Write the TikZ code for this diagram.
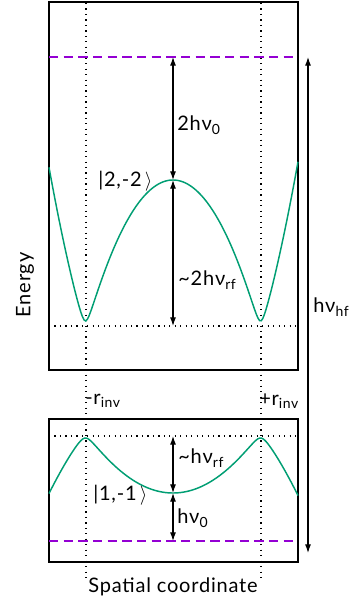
\documentclass[tikz,border=0pt]{standalone}
\usepackage{fontspec}
\setmainfont{Lato}
\usetikzlibrary{arrows.meta}
\definecolor{wellgreen}{RGB}{0,158,115}
\definecolor{zeroviolet}{RGB}{148,0,211}

\begin{document}
\begin{tikzpicture}[x=0.75pt, y=-0.75pt, >={Latex[length=6.5pt,width=4.5pt]},
    declare function={dressed(\u,\e)=sqrt((1-\u*\u)^2+\e*\e)-\e;},
    panel/.style={line width=1.5pt},
    guide/.style={line width=0.9pt, dash pattern=on 0.9pt off 3.2pt},
    zeroline/.style={zeroviolet, line width=0.9pt, dash pattern=on 7pt off 4pt},
    well/.style={wellgreen, line width=1.1pt},
    gap/.style={<->, line width=0.8pt},
    lbl/.style={font=\fontsize{15}{17}\selectfont\addfontfeature{LetterSpace=4}, inner sep=0pt}]

    \useasboundingbox (0,0) rectangle (358,605);

    % guides at the inversion points
    \draw[guide] (86,3) -- (86,578);
    \draw[guide] (261,3) -- (261,578);
    \draw[guide] (49,326) -- (298,326);
    \draw[guide] (49,436) -- (298,436);

    % panels
    \draw[panel] (49,2) rectangle (298,370);
    \draw[panel] (49,419) rectangle (298,562);

    % zero levels
    \draw[zeroline] (49,57) -- (298,57);
    \draw[zeroline] (49,541) -- (298,541);

    % dressed potentials
    \draw[well] plot[domain=49:298, samples=150, variable=\x]
        (\x, {321 - 141*(1+0.04*((\x-173)/87.5)^2)*dressed((\x-173)/87.5,0.08)/dressed(0,0.08)});
    \draw[well] plot[domain=49:298, samples=150, variable=\x]
        (\x, {438 + 55*dressed((\x-173)/87.5,0.12)/dressed(0,0.12)});

    % energy gaps
    \coordinate (top0) at (173,57);
    \coordinate (peak2) at (173,180);
    \coordinate (floor2) at (173,326);
    \coordinate (ceil1) at (173,436);
    \coordinate (dip1) at (173,493);
    \coordinate (bot0) at (173,541);
    \coordinate (hfTop) at (308,57);
    \coordinate (hfBot) at (308,553);

    \draw[gap] (top0) -- (peak2);
    \draw[gap] (peak2) -- (floor2);
    \draw[gap] (ceil1) -- (dip1);
    \draw[gap] (dip1) -- (bot0);
    \draw[gap] (hfTop) -- (hfBot);

    % labels
    \node[lbl, anchor=west] (twoNu) at (177,125) {2hν\textsubscript{0}};
    \node[lbl, anchor=west] (twoRf) at (178,280) {\textasciitilde2hν\textsubscript{rf}};
    \node[lbl, anchor=west] (state2) at (98,181) {|2,-2\,$\rangle$};
    \node[lbl, anchor=west] (oneRf) at (178,458) {\textasciitilde hν\textsubscript{rf}};
    \node[lbl, anchor=west] (state1) at (93,495) {|1,-1\,$\rangle$};
    \node[lbl, anchor=west] (oneNu) at (177,518) {hν\textsubscript{0}};
    \node[lbl, anchor=west] (hfLbl) at (313,307) {hν\textsubscript{hf}};
    \node[lbl, anchor=west] (rMinus) at (85,401) {-r\textsubscript{inv}};
    \node[lbl, anchor=west] (rPlus) at (259,401) {+r\textsubscript{inv}};
    \node[lbl, rotate=90] (energy) at (25,285) {Energy};
    \node[lbl] (spatial) at (173,587) {Spatial coordinate};
\end{tikzpicture}
\end{document}
